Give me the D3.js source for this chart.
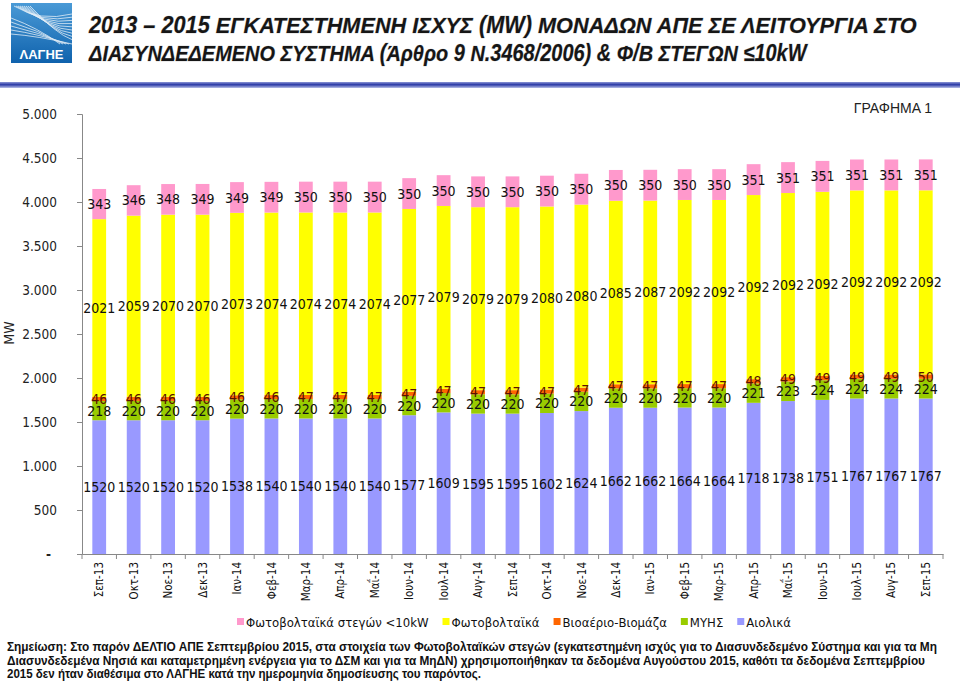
<!DOCTYPE html>
<html><head><meta charset="utf-8">
<script src="https://cdn.jsdelivr.net/npm/d3@7"></script>
<style>
body{margin:0;background:#fff;}
svg{display:block;}
</style></head>
<body>
<svg id="c" width="960" height="681"></svg>
<script>
const months = ["Σεπ-13","Οκτ-13","Νοε-13","Δεκ-13","Ιαν-14","Φεβ-14","Μαρ-14","Απρ-14","Μαΐ-14","Ιουν-14","Ιουλ-14","Αυγ-14","Σεπ-14","Οκτ-14","Νοε-14","Δεκ-14","Ιαν-15","Φεβ-15","Μαρ-15","Απρ-15","Μαΐ-15","Ιουν-15","Ιουλ-15","Αυγ-15","Σεπ-15"];
const wind  = [1520,1520,1520,1520,1538,1540,1540,1540,1540,1577,1609,1595,1595,1602,1624,1662,1662,1664,1664,1718,1738,1751,1767,1767,1767];
const hydro = [218,220,220,220,220,220,220,220,220,220,220,220,220,220,220,220,220,220,220,221,223,224,224,224,224];
const bio   = [46,46,46,46,46,46,47,47,47,47,47,47,47,47,47,47,47,47,47,48,49,49,49,49,50];
const pv    = [2021,2059,2070,2070,2073,2074,2074,2074,2074,2077,2079,2079,2079,2080,2080,2085,2087,2092,2092,2092,2092,2092,2092,2092,2092];
const roof  = [343,346,348,349,349,349,350,350,350,350,350,350,350,350,350,350,350,350,350,351,351,351,351,351,351];
const yTicks = [0,500,1000,1500,2000,2500,3000,3500,4000,4500,5000];

const seriesNames = ["Αιολικά","ΜΥΗΣ","Βιοαέριο-Βιομάζα","Φωτοβολταϊκά","Φωτοβολταϊκά στεγών <10kW"];
const seriesData = [wind, hydro, bio, pv, roof];
const seriesColors = ["#9999FF","#99CC00","#FF6600","#FFFF00","#FF99CC"];
const labelColors = ["#111","#111","#5a1200","#111","#111"];
const legendOrder = [4,3,2,1,0];

const svg = d3.select("#c");
const FONT = "'DejaVu Sans Condensed','DejaVu Sans',sans-serif";

// ---------- header ----------
const defs = svg.append("defs");
const lg = defs.append("linearGradient").attr("id","logoG").attr("x1",0).attr("y1",0).attr("x2",0).attr("y2",1);
lg.append("stop").attr("offset","0%").attr("stop-color","#4a9ad6");
lg.append("stop").attr("offset","100%").attr("stop-color","#0f62ad");
const bl = defs.append("linearGradient").attr("id","barG").attr("x1",0).attr("y1",0).attr("x2",0).attr("y2",1);
bl.append("stop").attr("offset","0%").attr("stop-color","#8d97d6");
bl.append("stop").attr("offset","45%").attr("stop-color","#2b3aa6");
bl.append("stop").attr("offset","100%").attr("stop-color","#b9c0e8");

svg.append("rect").attr("x",11).attr("y",3).attr("width",61).attr("height",60).attr("fill","url(#logoG)");
const logoLines = svg.append("g").attr("stroke","#fff").attr("fill","none").attr("stroke-width",0.8).attr("opacity",0.85);
for (let i=0;i<9;i++){
  logoLines.append("path").attr("d",`M${14+i*2},${6} Q${40+i*2},${22+i*1.5} ${72},${14+i*3.2}`);
}
for (let i=0;i<5;i++){
  logoLines.append("path").attr("d",`M${11},${18+i*4} Q${38},${28+i*2} ${60+i*3},${44}`);
}
svg.append("text").attr("x",41.5).attr("y",59).attr("text-anchor","middle")
  .attr("font-family","'Liberation Sans',Arial,sans-serif").attr("font-weight","bold")
  .attr("font-size",13).attr("fill","#fff").text("ΛΑΓΗΕ");

const titleLines = ["2013 – 2015  ΕΓΚΑΤΕΣΤΗΜΕΝΗ ΙΣΧΥΣ (MW)  ΜΟΝΑΔΩΝ ΑΠΕ  ΣΕ ΛΕΙΤΟΥΡΓΙΑ ΣΤΟ",
                    "ΔΙΑΣΥΝΔΕΔΕΜΕΝΟ ΣΥΣΤΗΜΑ (Άρθρο 9 Ν.3468/2006) & Φ/Β ΣΤΕΓΩΝ ≤10kW"];
const titleLen = [828, 718];
titleLines.forEach((t,i)=>{
  const tx = svg.append("text").attr("x",0).attr("y",0)
    .attr("font-family","'Liberation Sans Narrow','Liberation Sans',Arial,sans-serif")
    .attr("font-weight","bold").attr("font-style","italic").attr("font-size",23)
    .attr("fill","#161616")
    .style("paint-order","stroke").attr("stroke","#bbb").attr("stroke-width",0.6)
    .text(t);
  const nat = tx.node().getComputedTextLength();
  tx.attr("transform",`translate(89,${33+i*28}) scale(${titleLen[i]/nat},1)`);
});
svg.append("rect").attr("x",0).attr("y",82).attr("width",960).attr("height",6).attr("fill","url(#barG)");

svg.append("text").attr("x",932).attr("y",113).attr("text-anchor","end")
  .attr("font-family","'Liberation Sans',Arial,sans-serif").attr("font-size",14).attr("fill","#222")
  .text("ΓΡΑΦΗΜΑ 1");

// ---------- chart ----------
const y = d3.scaleLinear().domain([0,5000]).range([554,114]);
const x = d3.scaleBand().domain(months).range([82,943]).paddingInner(0.6).paddingOuter(0.3);
const step = x.step();
const bw = x.bandwidth();

const stackRows = months.map((m,i)=>{
  const o = {month:m};
  seriesNames.forEach((s,k)=>o[s]=seriesData[k][i]);
  return o;
});
const stacked = d3.stack().keys(seriesNames)(stackRows);

// axes
const yAxis = svg.append("g").attr("transform","translate(82,0)")
  .call(d3.axisLeft(y).tickValues(yTicks).tickSize(5).tickPadding(20)
    .tickFormat(d=> d===0 ? "-" : d3.format(",")(d).replace(",", ".")));
yAxis.select(".domain").attr("stroke","#888");
yAxis.selectAll(".tick line").attr("stroke","#888");
yAxis.selectAll("text").attr("font-family",FONT).attr("font-size",13.5).attr("fill","#222");
yAxis.selectAll(".tick").filter(d=>d===0).select("text").attr("dx",-6).attr("font-weight","bold");

svg.append("text").attr("transform","translate(14,333) rotate(-90)").attr("text-anchor","middle")
  .attr("font-family",FONT).attr("font-size",14).attr("fill","#222").text("MW");

// bars
stacked.forEach((layer,k)=>{
  svg.append("g").selectAll("rect").data(layer).join("rect")
    .attr("x",d=>x(d.data.month)).attr("width",bw)
    .attr("y",d=>y(d[1])).attr("height",d=>y(d[0])-y(d[1]))
    .attr("fill",seriesColors[k]);
});

// x axis
const xAxis = svg.append("g").attr("transform","translate(0,554)")
  .call(d3.axisBottom(x).tickSize(0).tickSizeOuter(0));
xAxis.select(".domain").attr("stroke","#888");
xAxis.selectAll("text").attr("transform","rotate(-90)").attr("x",-8).attr("y",0).attr("dy","0.36em")
  .style("text-anchor","end").attr("font-family",FONT).attr("font-size",11.5).attr("fill","#111");
const bounds = months.map(m=>x(m)+bw/2-step/2).concat([x(months[months.length-1])+bw/2+step/2]);
svg.append("g").selectAll("line").data(bounds).join("line")
  .attr("x1",d=>d).attr("x2",d=>d).attr("y1",554).attr("y2",559).attr("stroke","#888");

// data labels
stacked.forEach((layer,k)=>{
  svg.append("g").selectAll("text").data(layer).join("text")
    .attr("x",d=>x(d.data.month)+bw/2)
    .attr("y",d=>y((d[0]+d[1])/2))
    .attr("dy","0.36em").attr("text-anchor","middle")
    .attr("font-family",FONT).attr("font-size",14).attr("fill",labelColors[k])
    .text(d=>d[1]-d[0]);
});

// legend
const leg = svg.append("g").attr("transform","translate(237,622)");
let lx = 0;
legendOrder.forEach(k=>{
  const g = leg.append("g").attr("transform",`translate(${lx},0)`);
  g.append("rect").attr("x",0).attr("y",-4).attr("width",7).attr("height",7).attr("fill",seriesColors[k]);
  const t = g.append("text").attr("x",9).attr("y",0).attr("dy","0.35em")
    .attr("font-family",FONT).attr("font-size",13).attr("fill","#111").text(seriesNames[k]);
  lx += 9 + t.node().getComputedTextLength() + 14;
});

// note
const notes = ["Σημείωση: Στο παρόν ΔΕΛΤΙΟ ΑΠΕ Σεπτεμβρίου 2015,  στα στοιχεία των Φωτοβολταϊκών στεγών (εγκατεστημένη ισχύς για το Διασυνδεδεμένο Σύστημα και  για τα Μη",
 "Διασυνδεδεμένα Νησιά και  καταμετρημένη ενέργεια για το ΔΣΜ και για τα ΜηΔΝ) χρησιμοποιήθηκαν τα δεδομένα Αυγούστου 2015, καθότι  τα δεδομένα Σεπτεμβρίου",
 "2015 δεν ήταν διαθέσιμα στο ΛΑΓΗΕ κατά την ημερομηνία δημοσίευσης του παρόντος."];
const noteLen = [930, 918, 474];
notes.forEach((t,i)=>{
  svg.append("text").attr("x",7).attr("y",651+i*13.5)
    .attr("font-family","'Liberation Sans Narrow','Liberation Sans',Arial,sans-serif")
    .attr("font-weight","bold").attr("font-size",12).attr("fill","#111")
    .attr("textLength",noteLen[i]).attr("lengthAdjust","spacingAndGlyphs").text(t);
});
</script>
</body></html>
